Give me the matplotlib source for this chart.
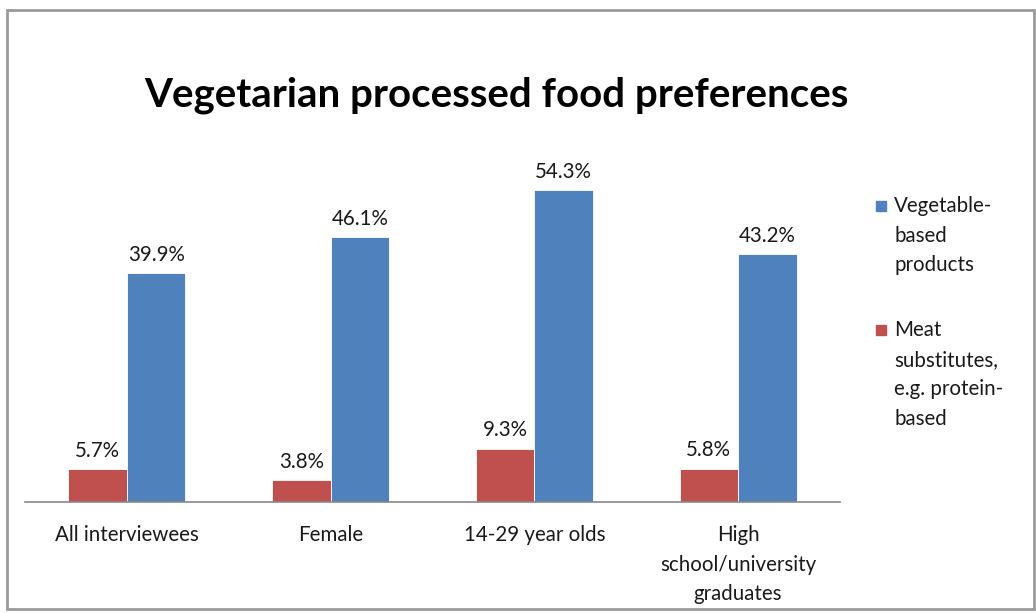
import matplotlib
matplotlib.use("Agg")
import matplotlib.pyplot as plt
from matplotlib.patches import Rectangle
import numpy as np

categories = ["All interviewees", "Female", "14-29 year olds", "High\nschool/university\ngraduates"]
meat_substitutes = [5.7, 3.8, 9.3, 5.8]
vegetable_based = [39.9, 46.1, 54.3, 43.2]
series_names = ["Vegetable-\nbased\nproducts", "Meat\nsubstitutes,\ne.g. protein-\nbased"]

RED = "#C0504D"
BLUE = "#4F81BD"
TXT = "#1a1a1a"
FONT = "Lato"
FS = 14.8

W, H = 1036, 613
fig = plt.figure(figsize=(W / 100, H / 100), dpi=100)
fig.patch.set_facecolor("white")

# chart frame
frame = Rectangle((7 / W, 1 - 609 / H), (1034 - 7) / W, (609 - 10) / H,
                  transform=fig.transFigure, fill=False, edgecolor="#9a9a9a", lw=2)
fig.patches.append(frame)

ax = fig.add_axes([25 / W, 1 - 502 / H, (840 - 25) / W, 344.4 / H])
x = np.arange(len(categories))
bw = 0.287
b_red = ax.bar(x - bw / 2, meat_substitutes, bw, color=RED, edgecolor="white", lw=0.6)
b_blue = ax.bar(x + bw / 2, vegetable_based, bw, color=BLUE, edgecolor="white", lw=0.6)
ax.set_xlim(-0.5, len(categories) - 0.5)
ax.set_ylim(0, 60)

for bars, vals in ((b_red, meat_substitutes), (b_blue, vegetable_based)):
    for rect, v in zip(bars, vals):
        ax.annotate(f"{v:.1f}%", (rect.get_x() + rect.get_width() / 2, v),
                    xytext=(0, 6), textcoords="offset points", ha="center", va="bottom",
                    fontsize=FS, color=TXT, family=FONT)

for s in ("top", "right", "left"):
    ax.spines[s].set_visible(False)
ax.spines["bottom"].set_color("#888888")
ax.spines["bottom"].set_linewidth(1.2)
ax.set_yticks([])
ax.set_xticks(x)
ax.set_xticklabels(categories, fontsize=FS, color=TXT, family=FONT, linespacing=1.6)
ax.tick_params(axis="x", length=0, pad=16.5)

fig.text(496 / W, 1 - 95 / H, "Vegetarian processed food preferences", ha="center", va="center",
         fontsize=29, fontweight="bold", color="black", family=FONT)

# legend
leg_items = [(series_names[0], BLUE, 206), (series_names[1], RED, 330)]
for label, col, ytop in leg_items:
    sq = 10
    fig.patches.append(Rectangle((876 / W, 1 - (ytop + 5) / H), sq / W, sq / H,
                                 transform=fig.transFigure, color=col))
    fig.text(894 / W, 1 - (ytop - 10) / H, label, ha="left", va="top", fontsize=FS,
             color=TXT, family=FONT, linespacing=1.6)

fig.savefig("out.png", dpi=100)
